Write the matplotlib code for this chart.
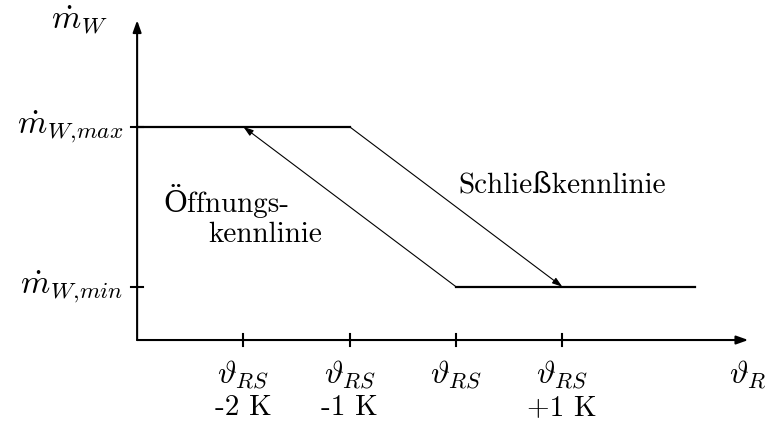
import matplotlib
matplotlib.use('Agg')
import matplotlib.pyplot as plt

plt.rcParams['mathtext.fontset'] = 'cm'

# temperature offsets from the set point, in K
temp_ticks = [-2, -1, 0, 1]
temp_labels = ['-2 K', '-1 K', '', '+1 K']

# flow levels (arbitrary units)
m_min = 1
m_max = 4

# closing curve: max flow until -1 K, then down to min at +1 K
close_x = [-1, 1]
close_y = [m_max, m_min]
# opening curve: from the set point back up to max at -2 K
open_x = [0, -2]
open_y = [m_min, m_max]

x_left, x_right = -3, 2.75   # axis range
x_end_min = 2.25            # end of min flow line
y_top = 6

fig = plt.figure(figsize=(7.67, 4.23), dpi=100)
ax = fig.add_axes([0, 0, 1, 1])
ax.set_xlim(-4.29, 2.926)
ax.set_ylim(-1.557, 6.38)
ax.axis('off')

arrow_ax = dict(arrowstyle='-|>,head_length=0.7,head_width=0.25', color='black', lw=1.5,
                shrinkA=0, shrinkB=0)
ax.annotate('', xy=(x_right, 0), xytext=(x_left, 0), arrowprops=arrow_ax)
ax.annotate('', xy=(x_left, y_top), xytext=(x_left, 0), arrowprops=arrow_ax)

# ticks
for t in temp_ticks:
    ax.plot([t, t], [-0.12, 0.12], color='black', lw=1.5)
for m in [m_min, m_max]:
    ax.plot([x_left - 0.055, x_left + 0.055], [m, m], color='black', lw=1.5)

# thick horizontal parts
ax.plot([x_left, close_x[0]], [m_max, m_max], color='black', lw=1.6)
ax.plot([open_x[0], x_end_min], [m_min, m_min], color='black', lw=1.6)

arrow_thin = dict(arrowstyle='-|>,head_length=0.6,head_width=0.2', color='black', lw=0.8,
                  shrinkA=0, shrinkB=0)
ax.annotate('', xy=(close_x[1], close_y[1]), xytext=(close_x[0], close_y[0]), arrowprops=arrow_thin)
ax.annotate('', xy=(open_x[1], open_y[1]), xytext=(open_x[0], open_y[0]), arrowprops=arrow_thin)

txt = dict(family=['cmr10', 'DejaVu Serif'], fontsize=21)
msize = 23

# tick labels
for t, lab in zip(temp_ticks, temp_labels):
    ax.text(t, -0.65, r'$\vartheta_{RS}$', ha='center', va='center', fontsize=msize)
    if lab:
        ax.text(t, -1.28, lab, ha='center', va='center', **txt)
ax.text(x_right, -0.65, r'$\vartheta_R$', ha='center', va='center', fontsize=msize)

ax.text(x_left - 0.27, y_top, r'$\dot{m}_W$', ha='right', va='center', fontsize=24)
ax.text(x_left - 0.13, m_max, r'$\dot{m}_{W{,}max}$', ha='right', va='center', fontsize=24)
ax.text(x_left - 0.13, m_min, r'$\dot{m}_{W{,}min}$', ha='right', va='center', fontsize=24)

ax.text(1.0, 2.9, 'Schließkennlinie', ha='center', va='center', **txt)
ax.text(-2.75, 2.6, 'Öffnungs-', ha='left', va='center', **txt)
ax.text(-1.26, 1.98, 'kennlinie', ha='right', va='center', **txt)

fig.savefig('out.png', dpi=100)
